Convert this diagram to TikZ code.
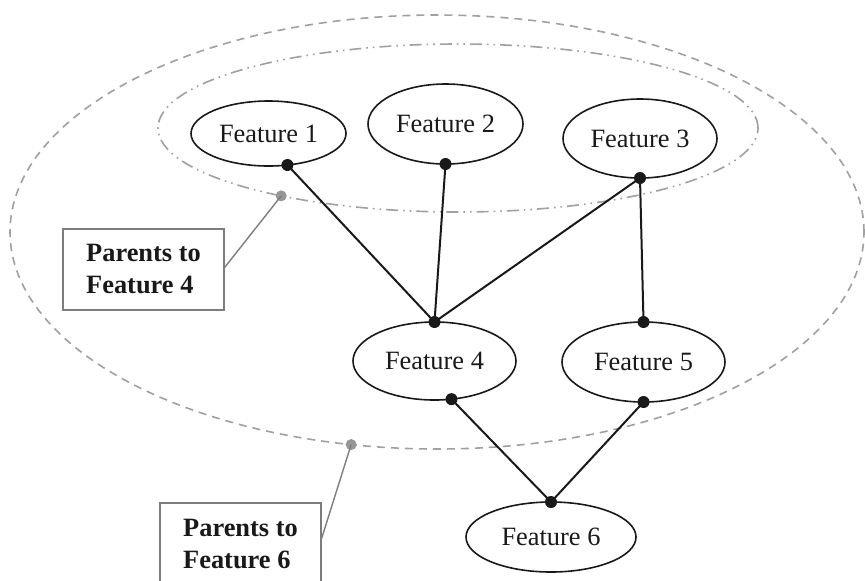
\documentclass[tikz,border=0pt]{standalone}
\usepackage{fontspec}
\setmainfont{Liberation Serif}
\usepackage{tikz}
\usetikzlibrary{shapes.geometric}
\definecolor{clrLine}{RGB}{25,25,25}
\definecolor{clrGrp}{RGB}{160,160,160}
\definecolor{clrDot}{RGB}{150,150,150}
\definecolor{clrBox}{RGB}{125,125,125}
\tikzset{
  feature/.style={ellipse,draw=clrLine,line width=0.8pt,inner sep=0pt,
    outer sep=0pt,text=clrLine,font=\fontsize{13.2}{16}\selectfont},
  parents/.style={ellipse,draw=clrGrp,line width=0.8pt,inner sep=0pt,
    outer sep=0pt},
  pdots/.style={parents,
    dash pattern=on 6pt off 2.5pt on 0.8pt off 2.5pt on 0.8pt off 2.5pt},
  pdash/.style={parents,dash pattern=on 4pt off 3pt},
  joint/.style={circle,fill=clrLine,inner sep=0pt,minimum size=6pt},
  gdot/.style={circle,fill=clrDot,inner sep=0pt,minimum size=5.5pt},
  callout/.style={rectangle,draw=clrBox,line width=0.6pt,align=left,
    minimum width=80.5pt,minimum height=40.5pt,inner sep=4pt,
    text=clrLine,font=\fontsize{13.2}{16}\selectfont\bfseries},
  link/.style={draw=clrLine,line width=1pt},
  lead/.style={draw=clrBox,line width=0.7pt}
}

\begin{document}
\begin{tikzpicture}[x=0.5pt,y=-0.5pt]
  \clip (0,0) rectangle (865,580);

  % parent groups
  \node[pdash,minimum width=427pt,minimum height=217pt] (par6) at (437,232) {};
  \node[pdots,minimum width=300pt,minimum height=84pt] (par4) at (458,128) {};

  \node[feature,minimum width=77.5pt,minimum height=32.5pt] (f1) at (268.5,133.5) {Feature 1};
  \node[feature,minimum width=77.5pt,minimum height=40pt] (f2) at (445.5,124) {Feature 2};
  \node[feature,minimum width=77pt,minimum height=39.5pt] (f3) at (640,138.5) {Feature 3};
  \node[feature,minimum width=81.5pt,minimum height=39pt] (f4) at (434.5,361) {Feature 4};
  \node[feature,minimum width=81.5pt,minimum height=40pt] (f5) at (643.5,362) {Feature 5};
  \node[feature,minimum width=85pt,minimum height=35pt] (f6) at (551,537) {Feature 6};

  \node[joint] (d1) at (f1.-59) {};
  \node[joint] (d2) at (f2.south) {};
  \node[joint] (d3) at (f3.south) {};
  \node[joint] (d4a) at (f4.north) {};
  \node[joint] (d4b) at (f4.-66.5) {};
  \node[joint] (d5a) at (f5.north) {};
  \node[joint] (d5b) at (f5.south) {};
  \node[joint] (d6) at (f6.north) {};

  \draw[link] (d1.center) -- (d4a.center);
  \draw[link] (d2.center) -- (d4a.center);
  \draw[link] (d3.center) -- (d4a.center);
  \draw[link] (d3.center) -- (d5a.center);
  \draw[link] (d4b.center) -- (d6.center);
  \draw[link] (d5b.center) -- (d6.center);

  % callouts
  \node[gdot] (g4) at (par4.-159.5) {};
  \node[gdot] (g6) at (par6.-112.2) {};
  \node[callout] (lbl4) at (143.5,269.5) {Parents to\\Feature 4};
  \node[callout] (lbl6) at (240.5,543.5) {Parents to\\Feature 6};
  \draw[lead] ([yshift=1pt]lbl4.east) -- (g4.center);
  \draw[lead] ([yshift=2.5pt]lbl6.east) -- (g6.center);
\end{tikzpicture}
\end{document}
